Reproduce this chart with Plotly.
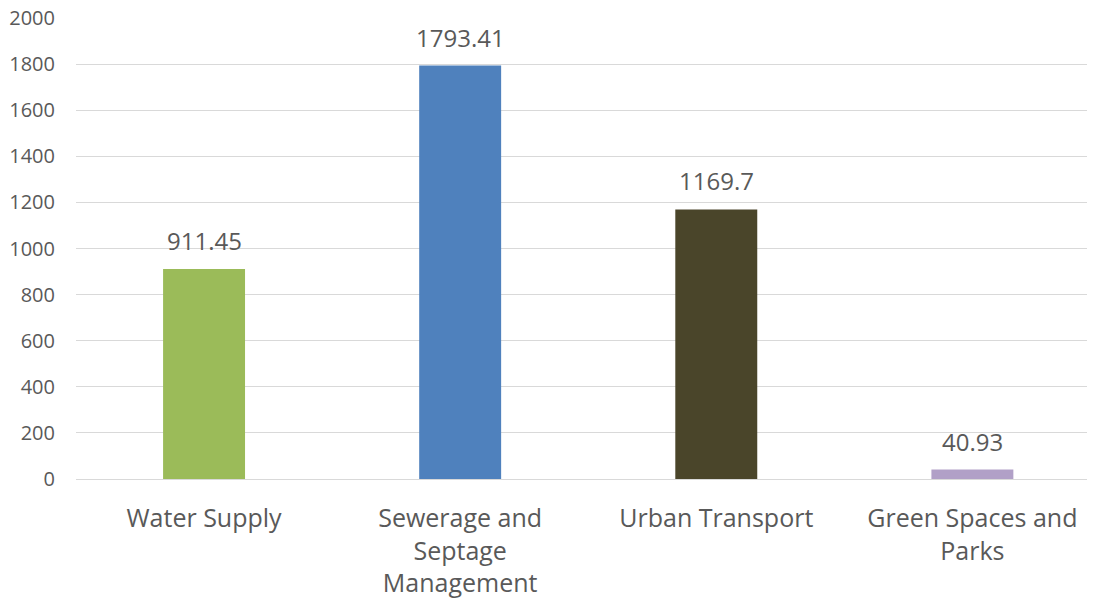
import plotly.graph_objects as go

categories = ["Water Supply", "Sewerage and<br>Septage<br>Management", "Urban Transport", "Green Spaces and<br>Parks"]
values = [911.45, 1793.41, 1169.7, 40.93]
labels = ["911.45", "1793.41", "1169.7", "40.93"]
colors = ["#9BBB59", "#4F81BD", "#4A452A", "#B1A0C7"]
y_ticks = [0, 200, 400, 600, 800, 1000, 1200, 1400, 1600, 1800, 2000]

font_family = "Open Sans, Liberation Sans, sans-serif"
text_color = "#595959"

fig = go.Figure()
fig.add_trace(go.Bar(
    x=categories, y=values, marker=dict(color=colors, line=dict(width=0)),
    width=0.32, hoverinfo="skip",
))
for c, v, t in zip(categories, values, labels):
    fig.add_annotation(x=c, y=v, text=t, showarrow=False, yanchor="bottom",
                       yshift=10, font=dict(family=font_family, size=24, color=text_color))

fig.update_layout(
    width=1095, height=604,
    margin=dict(l=68, r=0, t=10, b=133),
    plot_bgcolor="white", paper_bgcolor="white",
    showlegend=False,
    font=dict(family=font_family, color=text_color),
    xaxis=dict(range=[-0.5, 3.51], tickfont=dict(size=25, color=text_color),
               showgrid=False, showline=False, ticks="", ticklen=0,
               ticklabelstandoff=22, automargin=False),
    yaxis=dict(range=[0, 2000], tickvals=y_ticks, tickfont=dict(size=20, color=text_color),
               showgrid=True, gridcolor="#D9D9D9", gridwidth=1, zeroline=True,
               zerolinecolor="#D9D9D9", zerolinewidth=1, showline=False, ticks="",
               ticklabelstandoff=20, ticklabeloverflow="allow", automargin=False),
)
fig.write_html("out.html")
